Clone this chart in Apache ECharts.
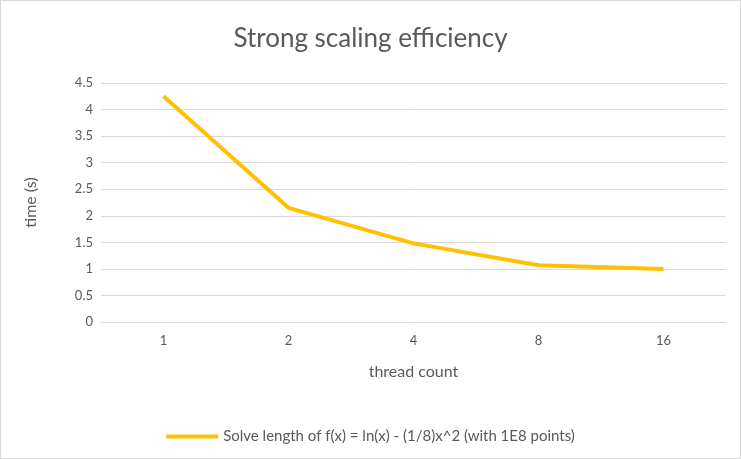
<!DOCTYPE html>
<html>
<head>
<meta charset="utf-8">
<script src="https://cdn.jsdelivr.net/npm/echarts@6/dist/echarts.min.js"></script>
<style>
  html, body { margin: 0; padding: 0; background: #fff; }
  #chart { width: 739px; height: 457px; border: 1px solid #d9d9d9; }
</style>
</head>
<body>
<div id="chart"></div>
<script>
  const threads = ['1', '2', '4', '8', '16'];
  const times = [4.25, 2.15, 1.48, 1.07, 1.0];
  const seriesName = 'Solve length of f(x) = ln(x) - (1/8)x^2 (with 1E8 points)';

  const chart = echarts.init(document.getElementById('chart'));
  chart.setOption({
    textStyle: { fontFamily: 'Lato' },
    title: {
      text: 'Strong scaling efficiency',
      left: 'center', top: 20,
      textStyle: { fontSize: 26, fontWeight: 'normal', color: '#595959', fontFamily: 'Lato' }
    },
    legend: {
      bottom: 9,
      itemWidth: 52, itemHeight: 4,
      icon: 'rect',
      textStyle: { fontSize: 15, color: '#595959' },
      data: [seriesName]
    },
    grid: { left: 100, right: 14, top: 82, bottom: 136 },
    xAxis: {
      type: 'category',
      data: threads,
      name: 'thread count', nameLocation: 'middle', nameGap: 42,
      nameTextStyle: { fontSize: 16, color: '#595959' },
      axisLine: { lineStyle: { color: '#d9d9d9' } },
      axisTick: { show: false },
      axisLabel: { color: '#595959', fontSize: 13, margin: 12 }
    },
    yAxis: {
      type: 'value', min: 0, max: 4.5, interval: 0.5,
      name: 'time (s)', nameLocation: 'middle', nameGap: 62,
      nameTextStyle: { fontSize: 16, color: '#595959' },
      axisLabel: { color: '#595959', fontSize: 13 },
      splitLine: { lineStyle: { color: '#d9d9d9' } }
    },
    series: [{
      name: seriesName,
      type: 'line',
      data: times,
      symbol: 'none',
      lineStyle: { color: '#ffc000', width: 4 },
      itemStyle: { color: '#ffc000' }
    }]
  });
</script>
</body>
</html>
